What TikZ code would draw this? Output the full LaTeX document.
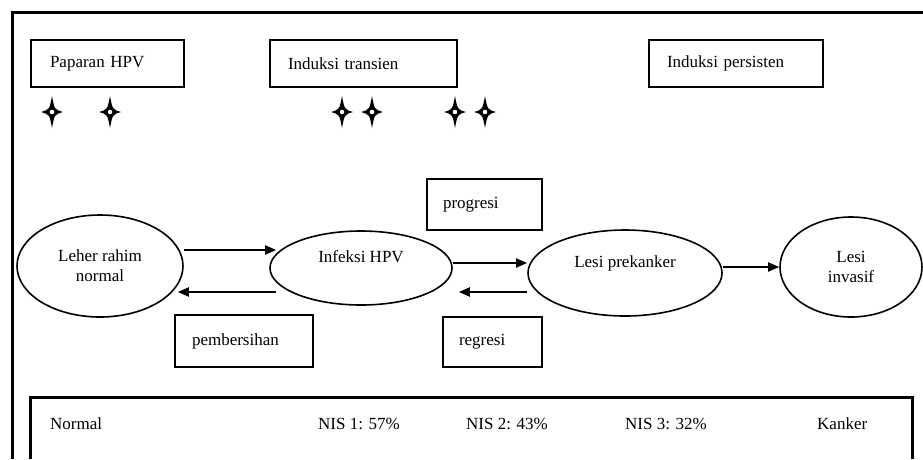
\documentclass[tikz,border=0pt]{standalone}
\usepackage{fontspec}
\setmainfont{Liberation Serif}
\usetikzlibrary{shapes.geometric,arrows.meta,positioning}

\begin{document}
\begin{tikzpicture}[x=1pt,y=-1pt,font=\fontsize{17}{20}\selectfont,>={Triangle[length=11pt,width=9pt]}]
\tikzset{tag/.style={draw,line width=2pt,inner ysep=0pt,align=left},
  st/.style={draw,line width=1.6pt,ellipse,inner sep=0pt,align=center},
  arr/.style={->,line width=2pt},
  hpvstar/.pic={\fill (0,-16) .. controls (2.5,-2.5) .. (11,0) .. controls (2.5,2.5) .. (0,16)
    .. controls (-2.5,2.5) .. (-11,0) .. controls (-2.5,-2.5) .. cycle;
    \fill[white] (0,0) circle (2.3);}}
\useasboundingbox (0,0) rectangle (923,459);
\draw[line width=3pt] (923,12) -- (12,12) -- (12,459);
% top row
\node[tag,minimum height=47pt,text width=115pt,inner xsep=19pt] (pap) at (107.5,63.5) {Paparan HPV};
\node[tag,minimum height=47pt,text width=151pt,inner xsep=18pt] (ind) at (363.5,63.5) {Induksi transien};
\node[tag,minimum height=47pt,text width=138pt,inner xsep=18pt] (per) at (736,63.5) {Induksi persisten};
\foreach \sx in {52,110,342,372,455,485} \pic at (\sx,112) {hpvstar};
% states
\node[st,minimum width=166pt,minimum height=102pt] (nor) at (100,266) {Leher rahim\\normal};
\node[st,minimum width=182pt,minimum height=74pt,text depth=23pt] (inf) at (361,268) {Infeksi HPV};
\node[st,minimum width=194pt,minimum height=86pt,text depth=23pt] (pre) at (625,273) {Lesi prekanker};
\node[st,minimum width=142pt,minimum height=100pt] (inv) at (851,267) {Lesi\\invasif};
\draw[arr] ([yshift=16pt]nor.east) -- ([yshift=16pt,xshift=7pt]nor.east -| inf.west);
\draw[arr] ([yshift=-26pt,xshift=7pt]nor.east -| inf.west) -- ([yshift=-26pt,xshift=-6pt]nor.east);
\draw[arr] ([yshift=5pt]inf.east) -- ([yshift=5pt]inf.east -| pre.west);
\draw[arr] ([yshift=-24pt]inf.east -| pre.west) -- ([yshift=-24pt,xshift=6pt]inf.east);
\draw[arr] (inv.west -| pre.east) -- (inv.west);
\node[tag,minimum height=51pt,text width=83pt,inner xsep=16pt] (pro) at (484.5,204.5) {progresi};
\node[tag,minimum height=50pt,text width=67pt,inner xsep=16pt] (reg) at (492.5,342) {regresi};
\node[tag,minimum height=52pt,text width=104pt,inner xsep=17pt] (pem) at (244,341) {pembersihan};
% bottom scale
\draw[line width=3pt] (30,459) -- (30,397) -- (912,397) -- (912,459);
\node[anchor=base west,inner sep=0pt] (nm) at (50,429) {Normal};
\node[anchor=base west,inner sep=0pt] (n1) at (318,429) {NIS 1: 57\%};
\node[anchor=base west,inner sep=0pt] (n2) at (466,429) {NIS 2: 43\%};
\node[anchor=base west,inner sep=0pt] (n3) at (625,429) {NIS 3: 32\%};
\node[anchor=base west,inner sep=0pt] (kk) at (817,429) {Kanker};
\end{tikzpicture}
\end{document}
